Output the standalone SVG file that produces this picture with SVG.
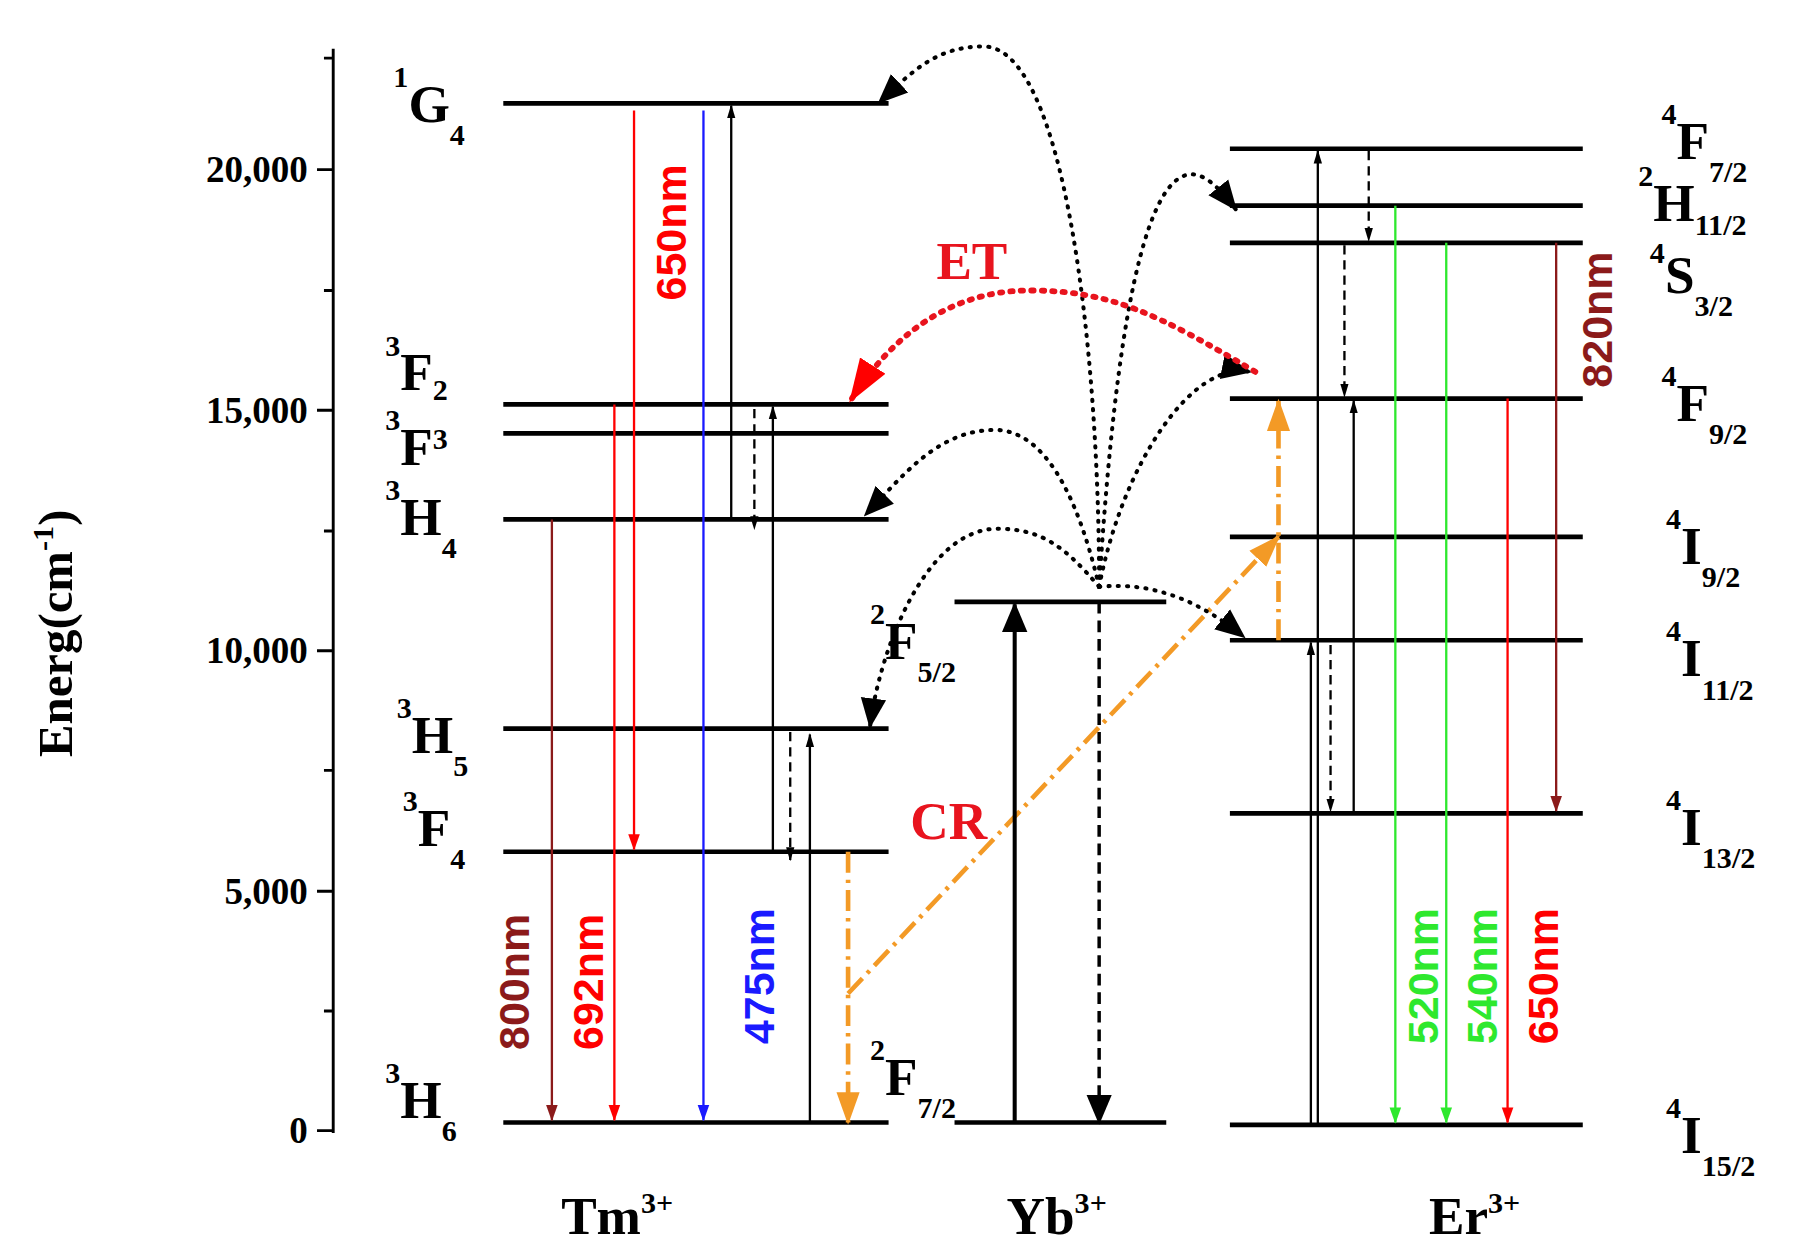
<svg xmlns="http://www.w3.org/2000/svg" width="1805" height="1255" viewBox="0 0 1805 1255">
<style>
.lv{stroke:#000;stroke-width:4}
.t{font-family:"Liberation Serif",serif;font-weight:bold;font-size:46px}
.s{font-size:26px}
.n{font-family:"Liberation Sans",sans-serif;font-weight:bold;font-size:37px}
.a{fill:none;stroke-width:2}
.d{fill:none;stroke:#000;stroke-width:3.5;stroke-dasharray:1 7;stroke-linecap:round}
.o{fill:none;stroke:#f39a26;stroke-width:4;stroke-dasharray:18 6 3 6}
</style>
<defs>
<marker id="k" markerWidth="12" markerHeight="20" refX="18" refY="6" orient="auto" markerUnits="userSpaceOnUse" viewBox="0 0 20 12"><path d="M0,0L20,6L0,12z" fill="#000"/></marker>
<marker id="kb" markerWidth="26" markerHeight="26" refX="24" refY="13" orient="auto" markerUnits="userSpaceOnUse"><path d="M0,2L26,13L0,24z" fill="#000"/></marker>
<marker id="r" markerWidth="14" markerHeight="14" refX="13" refY="7" orient="auto" markerUnits="userSpaceOnUse"><path d="M0,2L14,7L0,12z" fill="#f00"/></marker>
<marker id="dr" markerWidth="14" markerHeight="14" refX="13" refY="7" orient="auto" markerUnits="userSpaceOnUse"><path d="M0,2L14,7L0,12z" fill="#8b1a1a"/></marker>
<marker id="b" markerWidth="14" markerHeight="14" refX="13" refY="7" orient="auto" markerUnits="userSpaceOnUse"><path d="M0,2L14,7L0,12z" fill="#1a1aff"/></marker>
<marker id="g" markerWidth="14" markerHeight="14" refX="13" refY="7" orient="auto" markerUnits="userSpaceOnUse"><path d="M0,2L14,7L0,12z" fill="#2ee82e"/></marker>
<marker id="or" markerWidth="28" markerHeight="26" refX="26" refY="13" orient="auto" markerUnits="userSpaceOnUse"><path d="M0,3L28,13L0,23z" fill="#f39a26"/></marker>
<marker id="rb" markerWidth="38" markerHeight="32" refX="36" refY="16" orient="auto" markerUnits="userSpaceOnUse"><path d="M0,3L38,16L0,29z" fill="#f00"/></marker>
</defs>
<rect width="1805" height="1255" fill="#fff"/>
<g transform="scale(1.157 1.162)">
<g id="axis">
<line x1="288" y1="42" x2="288" y2="975" stroke="#000" stroke-width="2.5"/>
<path d="M274,973H288M274,767H288M274,560H288M274,353H288M274,146H288M280,870H288M280,663H288M280,457H288M280,250H288M280,50H288" stroke="#000" stroke-width="2.5"/>
<g class="t" text-anchor="end" style="font-size:32px">
<text x="266" y="984">0</text><text x="266" y="778">5,000</text><text x="266" y="571">10,000</text><text x="266" y="364">15,000</text><text x="266" y="157">20,000</text></g>
<text class="t" transform="translate(62,545) rotate(-90)" text-anchor="middle" style="font-size:42px">Energ(cm<tspan class="s" dy="-16">-1</tspan><tspan dy="16">)</tspan></text>
</g>
<g id="tm">
<path class="lv" d="M435,89H768M435,348H768M435,373H768M435,447H768M435,627H768M435,733H768M435,966H768"/>
<g class="t">
<text x="340" y="105"><tspan class="s" dy="-30">1</tspan><tspan dy="30">G</tspan><tspan class="s" dy="20">4</tspan></text>
<text x="333" y="336"><tspan class="s" dy="-30">3</tspan><tspan dy="30">F</tspan><tspan class="s" dy="8">2</tspan></text>
<text x="333" y="400"><tspan class="s" dy="-30">3</tspan><tspan dy="30">F</tspan><tspan class="s" dy="-14">3</tspan></text>
<text x="333" y="460"><tspan class="s" dy="-30">3</tspan><tspan dy="30">H</tspan><tspan class="s" dy="20">4</tspan></text>
<text x="343" y="648"><tspan class="s" dy="-30">3</tspan><tspan dy="30">H</tspan><tspan class="s" dy="20">5</tspan></text>
<text x="348" y="728"><tspan class="s" dy="-30">3</tspan><tspan dy="30">F</tspan><tspan class="s" dy="20">4</tspan></text>
<text x="333" y="962"><tspan class="s" dy="-30">3</tspan><tspan dy="30">H</tspan><tspan class="s" dy="20">6</tspan></text>
<text x="485" y="1062">Tm<tspan class="s" dy="-18">3+</tspan></text>
</g>
</g>
<g id="yb">
<path class="lv" d="M825,518H1008M825,966H1008"/>
<g class="t">
<text x="752" y="567"><tspan class="s" dy="-30">2</tspan><tspan dy="30">F</tspan><tspan class="s" dy="20">5/2</tspan></text>
<text x="752" y="942"><tspan class="s" dy="-30">2</tspan><tspan dy="30">F</tspan><tspan class="s" dy="20">7/2</tspan></text>
<text x="870" y="1062">Yb<tspan class="s" dy="-18">3+</tspan></text>
</g>
</g>
<g id="er">
<path class="lv" d="M1063,128H1368M1063,177H1368M1063,209H1368M1063,343H1368M1063,462H1368M1063,551H1368M1063,700H1368M1063,968H1368"/>
<g class="t">
<text x="1436" y="137"><tspan class="s" dy="-30">4</tspan><tspan dy="30">F</tspan><tspan class="s" dy="20">7/2</tspan></text>
<text x="1416" y="190"><tspan class="s" dy="-30">2</tspan><tspan dy="30">H</tspan><tspan class="s" dy="12">11/2</tspan></text>
<text x="1426" y="252"><tspan class="s" dy="-26">4</tspan><tspan dy="26">S</tspan><tspan class="s" dy="20">3/2</tspan></text>
<text x="1436" y="362"><tspan class="s" dy="-30">4</tspan><tspan dy="30">F</tspan><tspan class="s" dy="20">9/2</tspan></text>
<text x="1440" y="485"><tspan class="s" dy="-30">4</tspan><tspan dy="30">I</tspan><tspan class="s" dy="20">9/2</tspan></text>
<text x="1440" y="582"><tspan class="s" dy="-30">4</tspan><tspan dy="30">I</tspan><tspan class="s" dy="20">11/2</tspan></text>
<text x="1440" y="727"><tspan class="s" dy="-30">4</tspan><tspan dy="30">I</tspan><tspan class="s" dy="20">13/2</tspan></text>
<text x="1440" y="992"><tspan class="s" dy="-30">4</tspan><tspan dy="30">I</tspan><tspan class="s" dy="20">15/2</tspan></text>
<text x="1235" y="1062">Er<tspan class="s" dy="-18">3+</tspan></text>
</g>
</g>
<g id="connectors">
<line class="a" stroke="#f00" x1="548" y1="95" x2="548" y2="731" marker-end="url(#r)"/>
<line class="a" stroke="#1a1aff" x1="608" y1="95" x2="608" y2="964" marker-end="url(#b)"/>
<line class="a" stroke="#000" x1="632" y1="447" x2="632" y2="91" marker-end="url(#k)"/>
<line class="a" stroke="#000" stroke-dasharray="8 5" x1="652" y1="352" x2="652" y2="455" marker-end="url(#k)"/>
<line class="a" stroke="#000" x1="668" y1="733" x2="668" y2="350" marker-end="url(#k)"/>
<line class="a" stroke="#000" stroke-dasharray="8 5" x1="683" y1="630" x2="683" y2="740" marker-end="url(#k)"/>
<line class="a" stroke="#000" x1="700" y1="966" x2="700" y2="632" marker-end="url(#k)"/>
<line class="a" stroke="#8b1a1a" x1="477" y1="447" x2="477" y2="964" marker-end="url(#dr)"/>
<line class="a" stroke="#f00" x1="531" y1="348" x2="531" y2="964" marker-end="url(#r)"/>
<line class="o" x1="733" y1="733" x2="733" y2="966" marker-end="url(#or)"/>
<line class="o" x1="733" y1="855" x2="1105" y2="462" marker-end="url(#or)"/>
<line class="o" x1="1105" y1="551" x2="1105" y2="345" marker-end="url(#or)"/>
<line stroke="#000" stroke-width="3.5" x1="877" y1="966" x2="877" y2="520" marker-end="url(#kb)"/>
<line stroke="#000" stroke-width="3" stroke-dasharray="10 6" x1="950" y1="518" x2="950" y2="966" marker-end="url(#kb)"/>
<path class="d" d="M950,505C950,300 920,40 850,40C810,40 790,60 760,88" marker-end="url(#kb)"/>
<path class="d" d="M950,505C930,420 900,370 860,370C810,370 780,410 748,443" marker-end="url(#kb)"/>
<path class="d" d="M950,505C920,470 900,455 862,455C800,455 760,560 752,625" marker-end="url(#kb)"/>
<path class="d" d="M950,505C960,350 980,150 1030,150C1045,150 1060,170 1068,180" marker-end="url(#kb)"/>
<path class="d" d="M950,505C970,400 1030,310 1080,320" marker-end="url(#kb)"/>
<path class="d" d="M950,505C1000,500 1040,520 1075,548" marker-end="url(#kb)"/>
<path fill="none" stroke="#e8141e" stroke-width="5" stroke-dasharray="2 7" stroke-linecap="round" d="M1085,320C1000,270 960,250 890,250C820,250 770,290 735,345" marker-end="url(#rb)"/>
<line class="a" stroke="#000" x1="1139" y1="968" x2="1139" y2="130" marker-end="url(#k)"/>
<line class="a" stroke="#000" stroke-dasharray="8 5" x1="1183" y1="130" x2="1183" y2="207" marker-end="url(#k)"/>
<line class="a" stroke="#000" stroke-dasharray="8 5" x1="1162" y1="211" x2="1162" y2="341" marker-end="url(#k)"/>
<line class="a" stroke="#000" x1="1170" y1="700" x2="1170" y2="345" marker-end="url(#k)"/>
<line class="a" stroke="#000" x1="1133" y1="968" x2="1133" y2="553" marker-end="url(#k)"/>
<line class="a" stroke="#000" stroke-dasharray="8 5" x1="1150" y1="555" x2="1150" y2="698" marker-end="url(#k)"/>
<line class="a" stroke="#2ee82e" x1="1206" y1="177" x2="1206" y2="966" marker-end="url(#g)"/>
<line class="a" stroke="#2ee82e" x1="1250" y1="209" x2="1250" y2="966" marker-end="url(#g)"/>
<line class="a" stroke="#f00" x1="1303" y1="343" x2="1303" y2="966" marker-end="url(#r)"/>
<line class="a" stroke="#8b1a1a" x1="1345" y1="209" x2="1345" y2="698" marker-end="url(#dr)"/>
</g>
<g id="labels">
<text class="n" fill="#f00" transform="translate(593,200) rotate(-90)" text-anchor="middle">650nm</text>
<text class="n" fill="#8b1a1a" transform="translate(457,845) rotate(-90)" text-anchor="middle">800nm</text>
<text class="n" fill="#f00" transform="translate(521,845) rotate(-90)" text-anchor="middle">692nm</text>
<text class="n" fill="#1a1aff" transform="translate(669,840) rotate(-90)" text-anchor="middle">475nm</text>
<text class="n" fill="#2ee82e" transform="translate(1243,840) rotate(-90)" text-anchor="middle">520nm</text>
<text class="n" fill="#2ee82e" transform="translate(1294,840) rotate(-90)" text-anchor="middle">540nm</text>
<text class="n" fill="#f00" transform="translate(1347,840) rotate(-90)" text-anchor="middle">650nm</text>
<text class="n" fill="#8b1a1a" transform="translate(1393,275) rotate(-90)" text-anchor="middle">820nm</text>
<text class="t" fill="#e8141e" x="840" y="240" text-anchor="middle">ET</text>
<text class="t" fill="#e8141e" x="820" y="722" text-anchor="middle">CR</text>
</g>
</g>
</svg>
